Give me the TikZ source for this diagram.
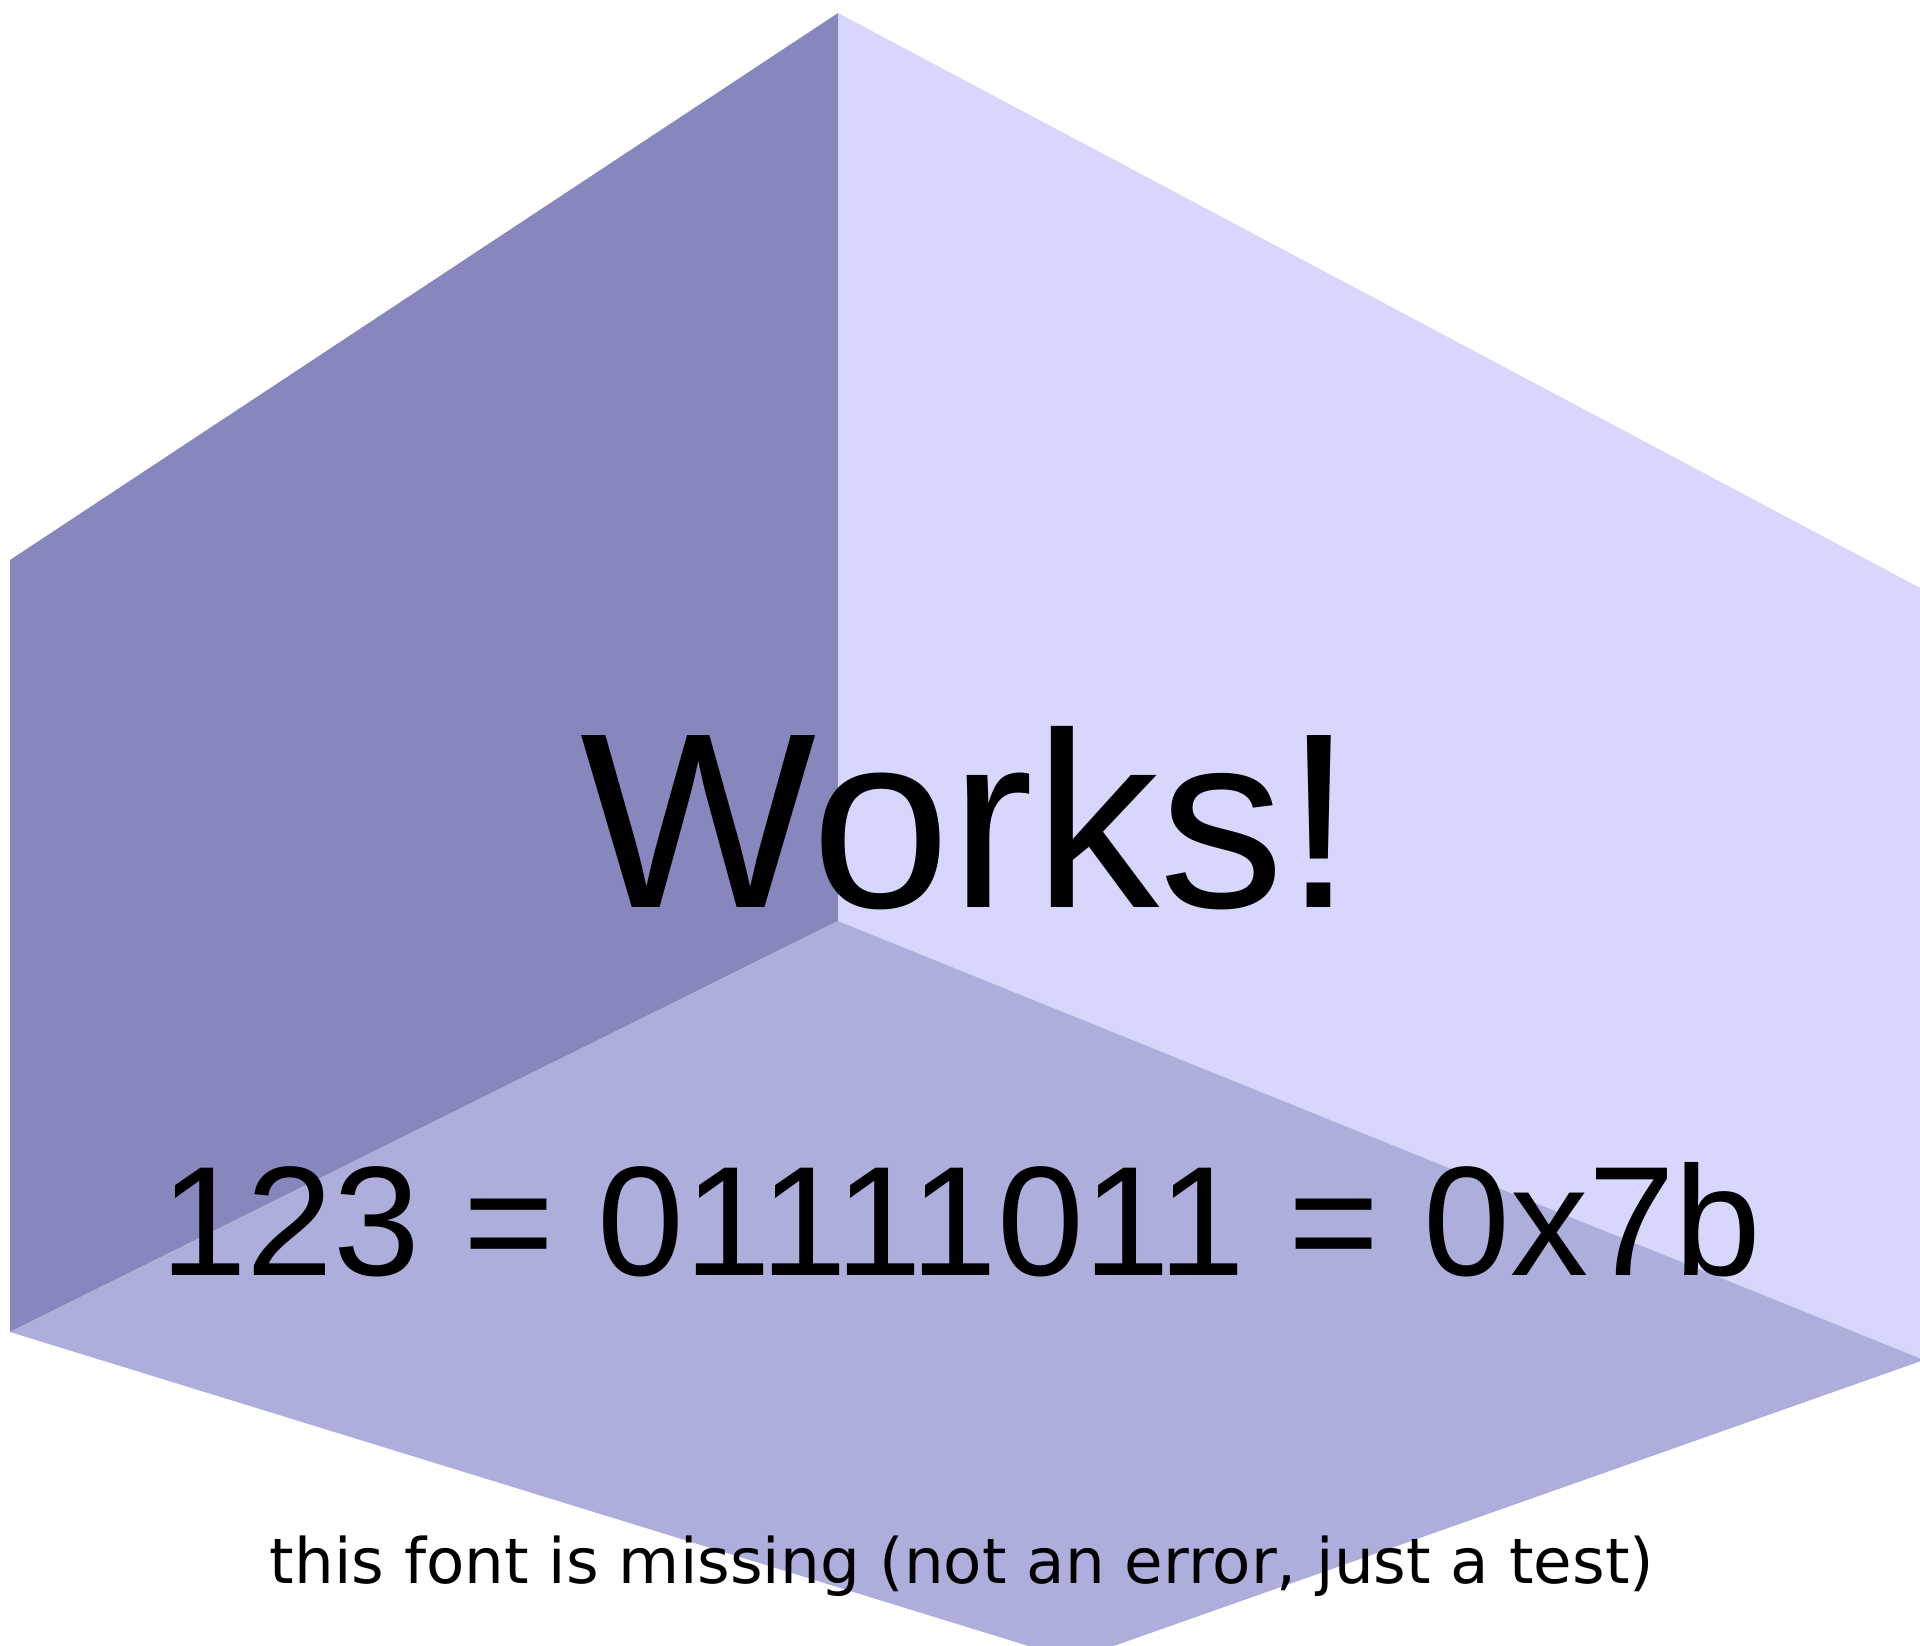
\documentclass[tikz,border=0pt]{standalone}
\usepackage{fontspec}
\setmainfont{Liberation Sans}
\newfontfamily\dejavu{DejaVu Sans}
\usepackage{tikz}

\definecolor{leftface}{RGB}{135,135,189}
\definecolor{rightface}{RGB}{215,215,253}
\definecolor{floorface}{RGB}{174,174,220}

\begin{document}
\begin{tikzpicture}
            [x=0.5pt,y=-0.5pt,every node/.style={inner sep = 0pt, anchor = base, align = center}]

            \useasboundingbox (0,0) rectangle (1920,1645);
            \clip (0,0) rectangle (1920,1645);

            \coordinate (top) at (838,13);
            \coordinate (upleft) at (10,560);
            \coordinate (lowleft) at (10,1332);
            \coordinate (bottom) at (1074,1660);
            \coordinate (lowright) at (1924,1360);
            \coordinate (upright) at (1924,590);
            \coordinate (centre) at (838,921);

            \fill[leftface] (top) -- (upleft) -- (lowleft) -- (centre) -- cycle;
            \fill[rightface] (top) -- (upright) -- (lowright) -- (centre) -- cycle;
            \fill[floorface] (centre) -- (lowleft) -- (bottom) -- (lowright) -- cycle;

            \node (works) at (967,907) {\fontsize{125}{125}\selectfont Works!};

            \node (number) at (961,1275) {\fontsize{78}{78}\selectfont 123 = 01111011 = 0x7b};

            \node (missing) at (962,1583) {\dejavu\fontsize{31.35}{31.35}\selectfont this font is missing (not an error, just a test)};
        \end{tikzpicture}
\end{document}
